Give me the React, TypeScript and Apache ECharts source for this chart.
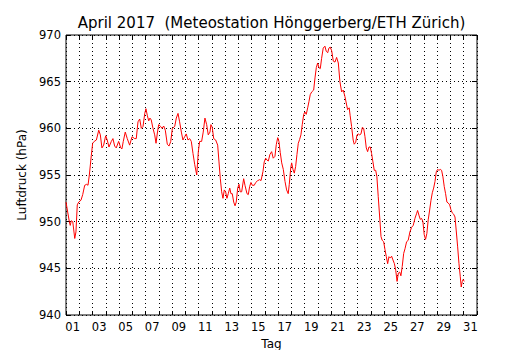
import React, { useEffect, useRef } from "react";
import * as echarts from "echarts";

const titleText = "April 2017  (Meteostation Hönggerberg/ETH Zürich)";
const xName = "Tag";
const yName = "Luftdruck (hPa)";
const dayLabels = Array.from({ length: 31 }, (_, i) => String(i + 1).padStart(2, "0"));
const yMin = 940;
const yMax = 970;
const yStep = 5;

// [Tag (Tagesmitte = ganze Zahl), Luftdruck hPa]
const woche1: [number, number][] = [
  [0.5, 952.1], [0.75, 950.0], [0.82, 949.6], [0.9, 950.1], [1.01, 950.0], [1.16, 948.2],
  [1.25, 948.9], [1.35, 951.8], [1.46, 952.1], [1.63, 952.3], [1.76, 952.9], [1.91, 953.9],
  [2.06, 954.0], [2.16, 953.9], [2.26, 955.0], [2.41, 957.1], [2.51, 958.4], [2.63, 958.6],
  [2.79, 958.75], [2.97, 959.8], [3.09, 959.3], [3.21, 957.9], [3.34, 958.2], [3.49, 959.2],
  [3.61, 958.75], [3.74, 958.0], [3.92, 958.6], [4.04, 958.9], [4.17, 958.1], [4.29, 957.9],
  [4.47, 958.6], [4.63, 957.9], [4.72, 957.8], [4.82, 958.6], [4.97, 959.6], [5.12, 958.9],
  [5.3, 958.2], [5.48, 959.1], [5.68, 958.9], [5.8, 958.9], [5.93, 960.7], [6.06, 961.0],
  [6.18, 960.0], [6.31, 960.2], [6.44, 961.6], [6.53, 962.1], [6.63, 961.4], [6.74, 960.8],
  [6.83, 961.1], [6.93, 960.9],
];
const woche2: [number, number][] = [
  [7.06, 960.0], [7.19, 959.3], [7.29, 958.4], [7.39, 959.5], [7.49, 960.4], [7.64, 960.2],
  [7.74, 960.0], [7.87, 960.25], [7.99, 959.8], [8.14, 958.3], [8.27, 958.1], [8.4, 958.6],
  [8.52, 960.0], [8.7, 960.2], [8.82, 961.1], [8.95, 961.6], [9.07, 960.7], [9.2, 959.6],
  [9.32, 958.75], [9.45, 959.1], [9.57, 959.4], [9.7, 958.75], [9.83, 958.9], [9.95, 958.6],
  [10.08, 957.3], [10.21, 956.1], [10.36, 955.0], [10.48, 957.5], [10.58, 958.6], [10.73, 958.6],
  [10.85, 959.6], [10.98, 961.1], [11.11, 960.4], [11.23, 959.3], [11.36, 959.6], [11.43, 960.4],
  [11.53, 960.1], [11.64, 958.9], [11.79, 958.75], [11.94, 958.2], [12.04, 956.4], [12.14, 954.6],
  [12.24, 953.2], [12.34, 952.5], [12.44, 953.4], [12.54, 953.2], [12.64, 952.5], [12.74, 953.0],
  [12.85, 953.6], [12.94, 953.0], [13.04, 953.0], [13.15, 952.1], [13.25, 951.7], [13.34, 952.1],
  [13.45, 953.6], [13.55, 954.0], [13.64, 953.2], [13.75, 953.2], [13.9, 954.6],
];
const woche3: [number, number][] = [
  [14.0, 953.9], [14.15, 953.0], [14.25, 952.9], [14.35, 953.75], [14.45, 954.2], [14.55, 953.9],
  [14.7, 953.9], [14.81, 954.2], [14.96, 954.4], [15.11, 954.5], [15.21, 954.4], [15.36, 955.4],
  [15.45, 956.4], [15.56, 956.8], [15.66, 956.6], [15.76, 956.5], [15.88, 957.2], [16.01, 957.5],
  [16.13, 956.8], [16.26, 957.0], [16.36, 958.25], [16.47, 959.0], [16.56, 958.6], [16.66, 957.4],
  [16.77, 956.3], [16.89, 955.6], [17.02, 954.3], [17.14, 953.4], [17.26, 953.0], [17.34, 954.0],
  [17.45, 955.75], [17.52, 956.3], [17.62, 955.6], [17.72, 955.2], [17.82, 955.9], [17.92, 957.2],
  [18.02, 958.4], [18.12, 958.8], [18.22, 959.3], [18.32, 960.4], [18.43, 961.5], [18.52, 961.75],
  [18.62, 961.5], [18.73, 962.2], [18.83, 962.9], [18.92, 963.6], [19.03, 963.9], [19.18, 964.1],
  [19.28, 965.4], [19.38, 966.5], [19.48, 967.0], [19.58, 966.5], [19.68, 966.4], [19.78, 967.5],
  [19.9, 968.6], [20.03, 968.8], [20.13, 968.25], [20.24, 968.1], [20.33, 968.6], [20.43, 968.7],
  [20.54, 968.3], [20.66, 967.2], [20.79, 967.1], [20.91, 967.6],
];
const woche4: [number, number][] = [
  [21.04, 967.0], [21.16, 965.0], [21.29, 963.9], [21.41, 964.1], [21.54, 963.4], [21.74, 962.0],
  [21.86, 962.2], [21.93, 961.4], [22.04, 960.2], [22.16, 958.75], [22.24, 958.3], [22.35, 958.5],
  [22.45, 959.3], [22.54, 959.4], [22.65, 959.3], [22.75, 959.4], [22.85, 960.1], [22.95, 960.0],
  [23.05, 959.1], [23.15, 957.9], [23.25, 957.5], [23.35, 958.0], [23.45, 958.0], [23.55, 957.3],
  [23.65, 956.4], [23.75, 955.5], [23.86, 955.5], [23.95, 954.8], [24.05, 952.7], [24.16, 950.5],
  [24.26, 948.4], [24.35, 948.0], [24.46, 947.85], [24.56, 947.0], [24.66, 946.25], [24.76, 945.5],
  [24.86, 946.25], [24.96, 946.1], [25.06, 946.3], [25.16, 945.9], [25.27, 945.5], [25.37, 944.8],
  [25.47, 943.6], [25.57, 944.5], [25.67, 944.6], [25.76, 944.2], [25.86, 945.2], [25.97, 946.6],
  [26.07, 947.1], [26.19, 947.85], [26.31, 948.0], [26.44, 948.9], [26.57, 949.4], [26.69, 949.6],
  [26.82, 950.35], [26.95, 950.9],
];
const woche5: [number, number][] = [
  [27.02, 951.2], [27.12, 950.7], [27.22, 950.25], [27.32, 950.35], [27.42, 950.0], [27.52, 948.6],
  [27.62, 948.1], [27.72, 948.75], [27.82, 950.2], [27.93, 951.25], [28.03, 952.3], [28.13, 953.1],
  [28.23, 953.6], [28.33, 954.3], [28.43, 955.35], [28.53, 955.6], [28.63, 955.5], [28.73, 955.6],
  [28.83, 955.5], [28.93, 954.8], [29.03, 953.75], [29.13, 953.0], [29.23, 952.1], [29.33, 952.0],
  [29.44, 951.8], [29.53, 951.3], [29.63, 950.95], [29.74, 950.8], [29.84, 950.5], [29.93, 949.1],
  [30.04, 947.3], [30.14, 945.5], [30.24, 944.1], [30.31, 943.0], [30.39, 943.6], [30.46, 943.8],
  [30.54, 943.6],
];

const FONT = "DejaVu Sans";

export default function App() {
  const ref = useRef<HTMLDivElement>(null);
  useEffect(() => {
    if (!ref.current) return;
    const chart = echarts.init(ref.current, undefined, { renderer: "svg" });
    const dotted = { color: "#000", width: 1, type: [1, 3] as any };
    const data = [...woche1, ...woche2, ...woche3, ...woche4, ...woche5];
    chart.setOption({
      animation: false,
      backgroundColor: "#fff",
      textStyle: { fontFamily: FONT },
      grid: {
        left: 66, right: 53, top: 35, bottom: 35,
        outerBoundsMode: "none",
        containLabel: false,
        show: true, borderColor: "#000", borderWidth: 1, backgroundColor: "transparent",
      },
      graphic: [
        {
          type: "text",
          x: 271.5,
          y: 23,
          style: {
            text: titleText,
            fill: "#000",
            font: `15px "${FONT}"`,
            textAlign: "center",
            textVerticalAlign: "middle",
          },
        },
      ],
      xAxis: [
        {
          type: "category",
          position: "bottom",
          data: dayLabels,
          boundaryGap: true,
          axisLine: { show: false },
          axisTick: { show: true, inside: true, length: 4, interval: 0, lineStyle: { color: "#000" } },
          axisLabel: { interval: 1, color: "#000", fontSize: 11.5, fontFamily: FONT, margin: 6 },
          splitLine: { show: true, interval: 0, lineStyle: dotted },
          name: xName,
          nameLocation: "middle",
          nameGap: 19,
          nameTextStyle: { color: "#000", fontSize: 12, fontFamily: FONT },
        },
        {
          type: "category",
          position: "top",
          data: dayLabels,
          boundaryGap: true,
          axisLine: { show: false },
          axisTick: { show: true, inside: true, length: 4, interval: 0, lineStyle: { color: "#000" } },
          axisLabel: { show: false },
          splitLine: { show: false },
        },
        {
          type: "value",
          min: 0.5,
          max: 31.5,
          show: false,
        },
      ],
      yAxis: [
        {
          type: "value",
          position: "left",
          min: yMin,
          max: yMax,
          interval: yStep,
          axisLine: { show: false },
          axisTick: { show: true, inside: true, length: 5, lineStyle: { color: "#000" } },
          axisLabel: { color: "#000", fontSize: 11.5, fontFamily: FONT, margin: 5 },
          splitLine: { show: true, lineStyle: dotted },
          name: yName,
          nameLocation: "middle",
          nameGap: 36,
          nameTextStyle: { color: "#000", fontSize: 12, fontFamily: FONT },
        },
        {
          type: "value",
          position: "right",
          min: yMin,
          max: yMax,
          interval: yStep,
          axisLine: { show: false },
          axisTick: { show: true, inside: true, length: 5, lineStyle: { color: "#000" } },
          axisLabel: { show: false },
          splitLine: { show: false },
        },
      ],
      series: [
        {
          type: "line",
          xAxisIndex: 2,
          yAxisIndex: 0,
          data,
          showSymbol: false,
          symbol: "none",
          lineStyle: { color: "#ff0000", width: 1 },
          z: 5,
        },
      ],
    });
    return () => chart.dispose();
  }, []);
  return <div ref={ref} style={{ width: 530, height: 350, position: "absolute", left: 0, top: 0 }} />;
}
